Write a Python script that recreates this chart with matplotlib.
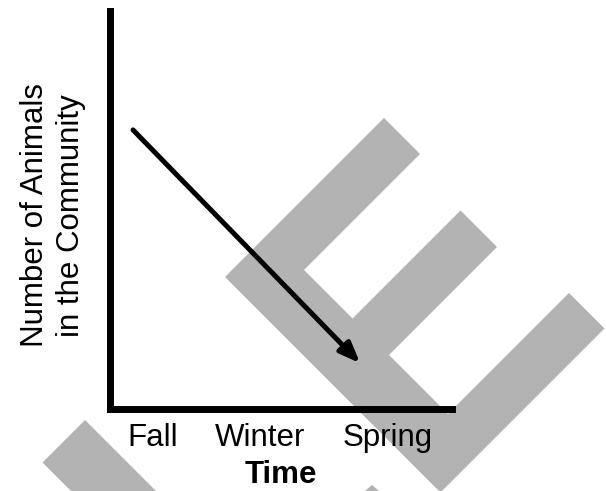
import matplotlib
matplotlib.use("Agg")
import matplotlib.pyplot as plt
from matplotlib.patches import Polygon

plt.rcParams['font.family'] = ['Liberation Sans', 'DejaVu Sans']

# ---- data ----
categories = ["Fall", "Winter", "Spring"]
category_pos = [0.123, 0.438, 0.814]
arrow_x = [0.066, 0.732]      # start, end (time axis)
arrow_y = [0.700, 0.114]      # number of animals (relative)
x_label = "Time"
y_label = "Number of Animals\nin the Community"

W, H = 606, 491
fig = plt.figure(figsize=(W / 100, H / 100), dpi=100)
fig.patch.set_facecolor("white")

# ---- watermark (decorative, figure pixel space, u=x+y, v=x-y) ----
def uv_poly(pts):
    out = []
    for u, v in pts:
        x = (u + v) / 2.0
        y = (u - v) / 2.0
        out.append((x / W, 1 - y / H))
    return out

gray = "#b3b3b3"
E_shape = [(502, -52), (502, 266), (574, 266), (574, 34), (671, 34), (671, 250),
           (744, 250), (744, 34), (862, 34), (862, 276), (933, 276), (933, -52)]
stroke = [(505, -420), (505, -335), (1200, -335), (1200, -420)]
for shape in (E_shape, stroke):
    fig.add_artist(Polygon(uv_poly(shape), closed=True, transform=fig.transFigure,
                           facecolor=gray, edgecolor="none", zorder=-5))
tip = [(372 / W, 1 - 485 / H), (365 / W, 0.0), (379 / W, 0.0)]
fig.add_artist(Polygon(tip, closed=True, transform=fig.transFigure,
                       facecolor=gray, edgecolor="none", zorder=-5))

# ---- axes ----
ax = fig.add_axes([110.5 / W, 82.5 / H, 341 / W, 398 / H])
ax.patch.set_visible(False)
ax.set_xlim(0, 1)
ax.set_ylim(0, 1)
for s in ("top", "right"):
    ax.spines[s].set_visible(False)
for s in ("left", "bottom"):
    ax.spines[s].set_linewidth(5)
    ax.spines[s].set_color("black")

ax.set_xticks(category_pos)
ax.set_xticklabels(categories, fontsize=22.5)
ax.set_yticks([])
ax.tick_params(axis="x", length=0, pad=10.5)

ax.set_xlabel(x_label, fontsize=22.5, fontweight="bold", labelpad=5)
ax.set_ylabel(y_label, fontsize=22.5, linespacing=1.3)
ax.yaxis.set_label_coords(-24 / 341, 0.485)

ax.annotate("", xy=(arrow_x[1], arrow_y[1]), xytext=(arrow_x[0], arrow_y[0]),
            arrowprops=dict(arrowstyle="-|>,head_length=0.55,head_width=0.22",
                            mutation_scale=22, lw=3.6, color="black",
                            shrinkA=0, shrinkB=0))

fig.savefig("out.png", dpi=100, facecolor="white")
